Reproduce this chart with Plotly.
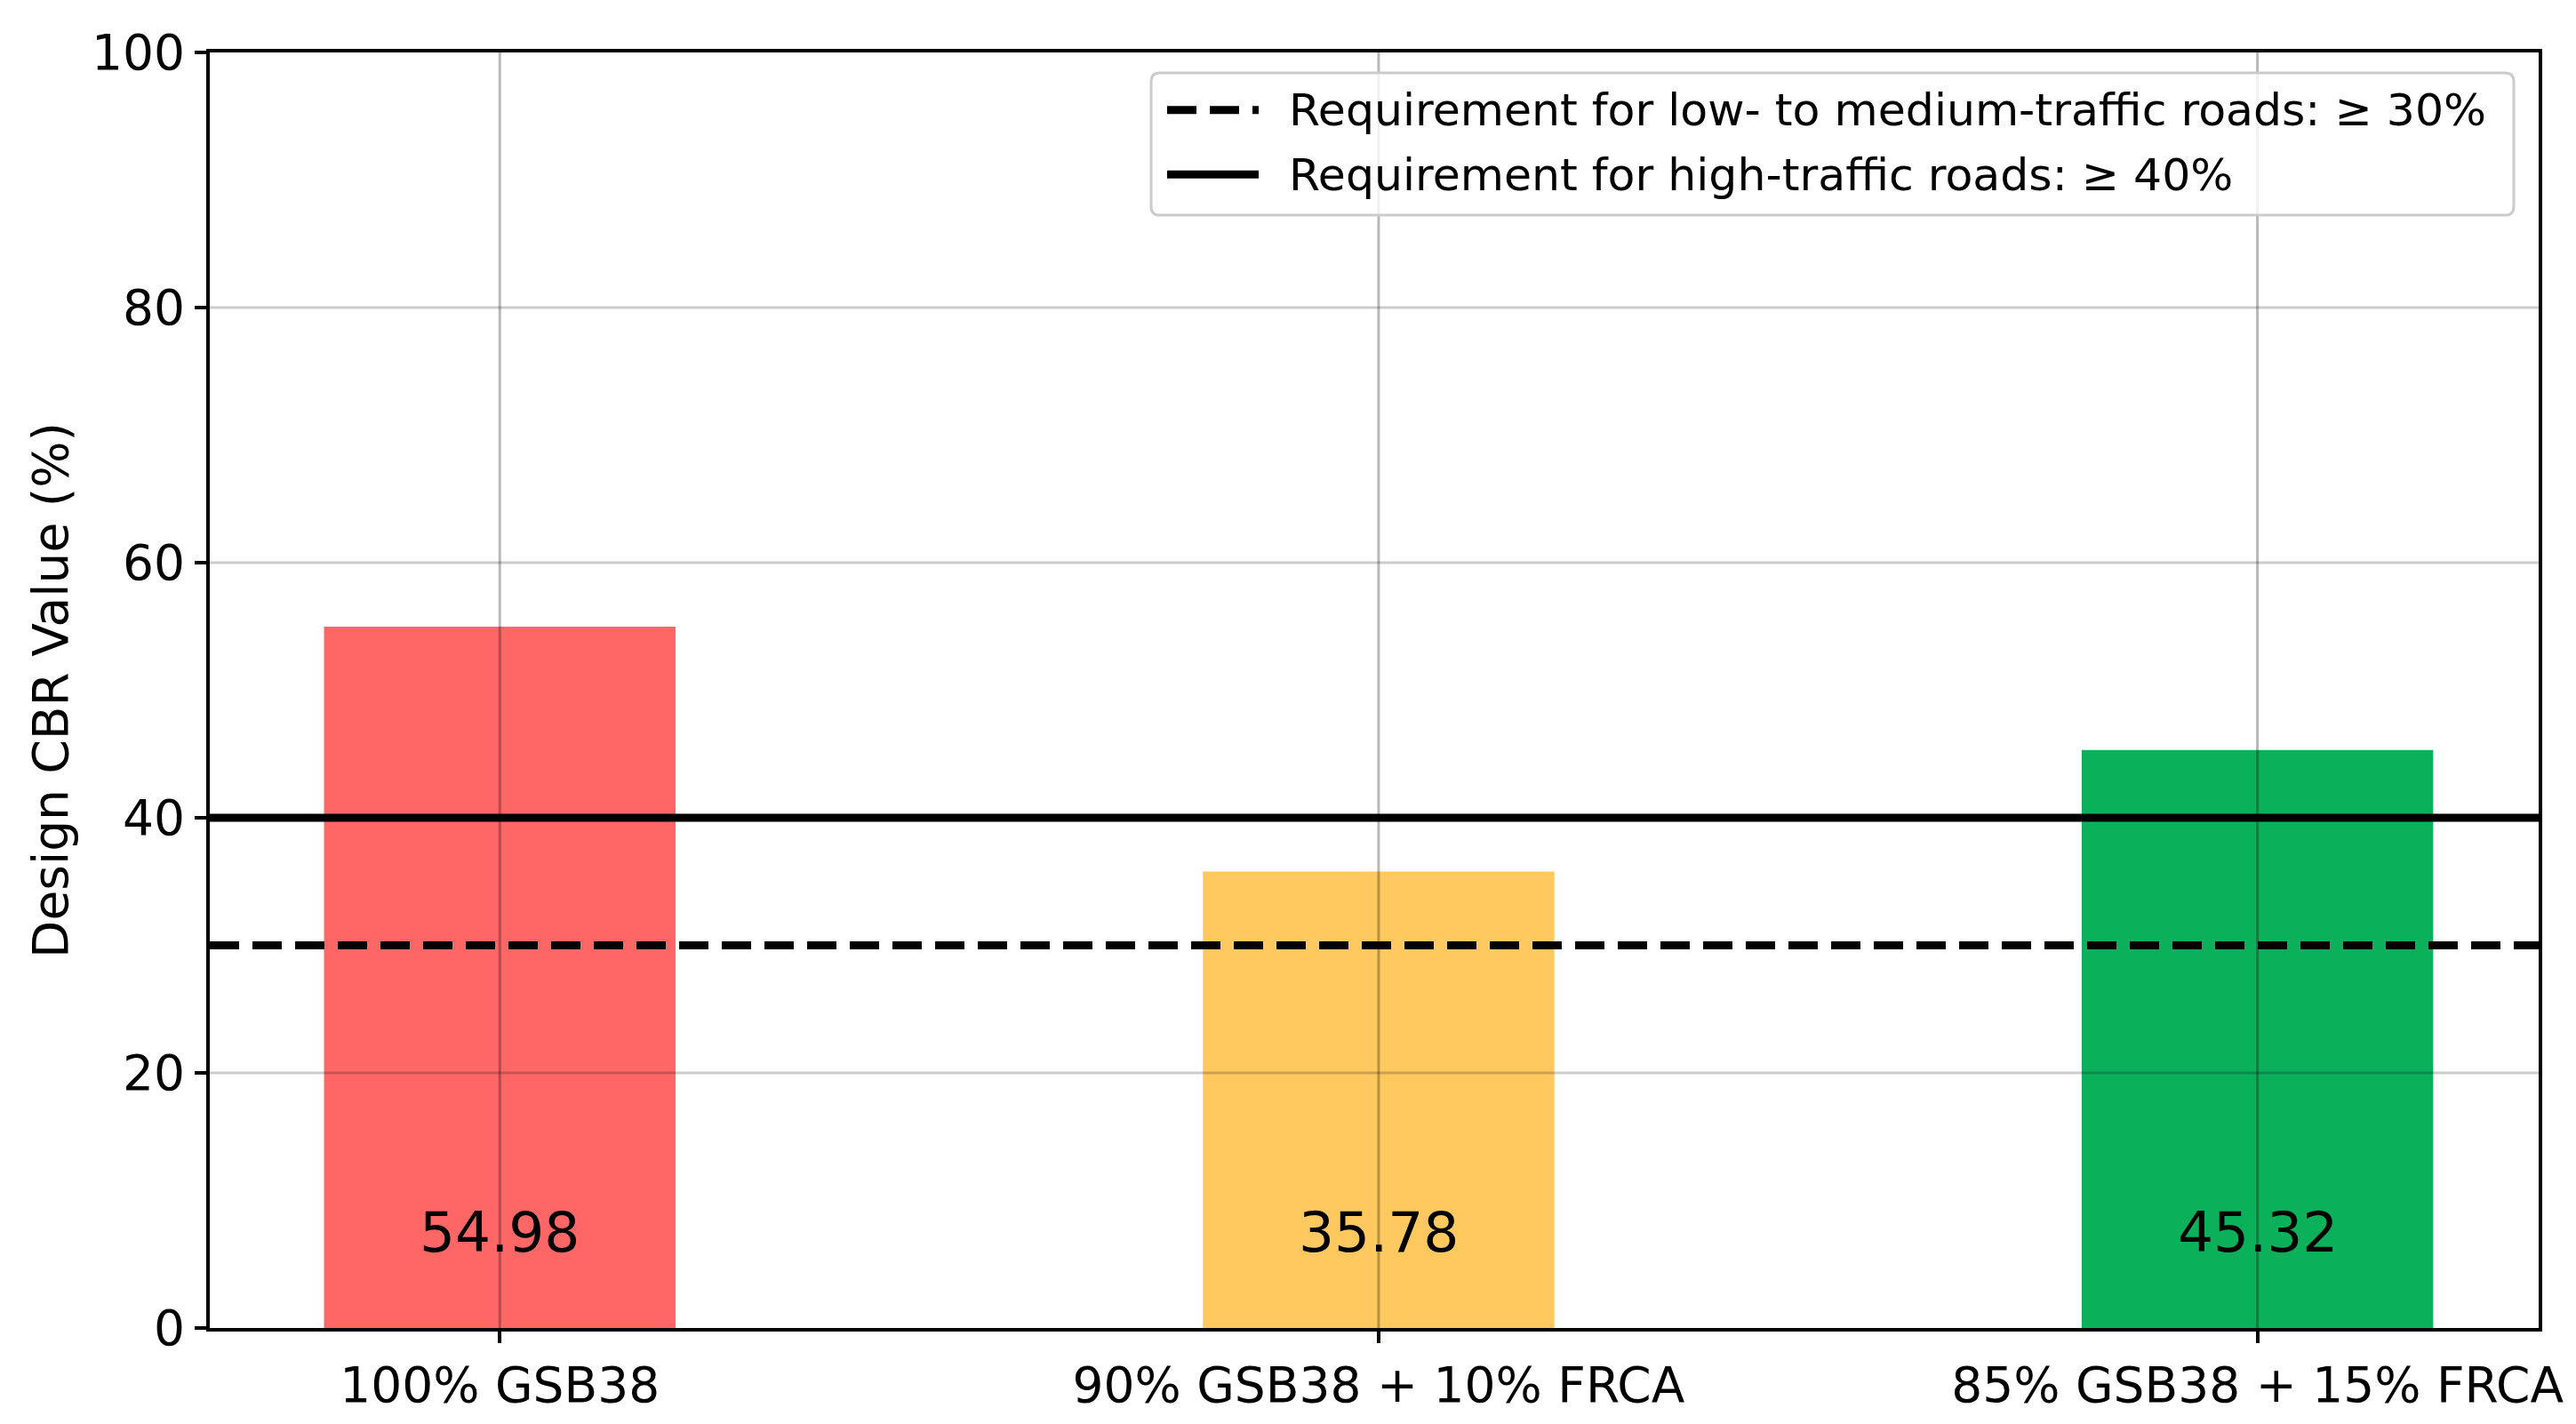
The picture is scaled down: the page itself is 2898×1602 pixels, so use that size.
import plotly.graph_objects as go

# ---- data ----
categories = ["100% GSB38", "90% GSB38 + 10% FRCA", "85% GSB38 + 15% FRCA"]
cbr_values = [54.98, 35.78, 45.32]
bar_colors = ["#FF6666", "#FFC95F", "#0BB05A"]
threshold_values = [30, 40]
threshold_labels = [
    "Requirement for low- to medium-traffic roads: \u2265 30%",
    "Requirement for high-traffic roads: \u2265 40%",
]
threshold_dashes = ["33px,15px", "solid"]
y_ticks = [0, 20, 40, 60, 80, 100]

FONT = "DejaVu Sans"
W, H = 2898, 1602
ML, MR, MT, MB = 236, 42, 59, 101
PW, PH = W - ML - MR, H - MT - MB

fig = go.Figure()
fig.add_trace(go.Bar(
    x=categories, y=cbr_values, width=0.4,
    marker=dict(color=bar_colors, line=dict(width=0)),
    showlegend=False, hoverinfo="skip",
))

shapes = []
# grid lines drawn above the bars (as in the reference)
for i, _ in enumerate(categories):
    shapes.append(dict(type="line", xref="x", yref="y domain", x0=i, x1=i, y0=0, y1=1,
                       line=dict(color="rgba(0,0,0,0.28)", width=3), layer="above"))
for v in y_ticks[1:-1]:
    shapes.append(dict(type="line", xref="x domain", yref="y", x0=0, x1=1, y0=v, y1=v,
                       line=dict(color="rgba(0,0,0,0.2)", width=3), layer="above"))
# requirement lines
for v, d in zip(threshold_values, threshold_dashes):
    shapes.append(dict(type="line", xref="x domain", yref="y", x0=0, x1=1, y0=v, y1=v,
                       line=dict(color="black", width=9, dash=d), layer="above"))

# manual legend (paper coordinates)
def px_x(X):
    return (X - ML) / PW

def px_y(Y):
    return (H - MB - Y) / PH

bx0, bx1, by0, by1 = px_x(1295), px_x(2828), px_y(243), px_y(82)
rx, ry = 10 / PW, 10 / PH
path = (f"M{bx0+rx},{by0} L{bx1-rx},{by0} Q{bx1},{by0} {bx1},{by0+ry} "
        f"L{bx1},{by1-ry} Q{bx1},{by1} {bx1-rx},{by1} L{bx0+rx},{by1} "
        f"Q{bx0},{by1} {bx0},{by1-ry} L{bx0},{by0+ry} Q{bx0},{by0} {bx0+rx},{by0} Z")
shapes.append(dict(type="path", xref="paper", yref="paper", path=path,
                   fillcolor="rgba(255,255,255,0.8)", line=dict(color="#cccccc", width=3),
                   layer="above"))

annotations = []
row_y = [124, 197]
for lab, d, ry_px in zip(threshold_labels, threshold_dashes, row_y):
    yy = px_y(ry_px)
    shapes.append(dict(type="line", xref="paper", yref="paper", x0=px_x(1313), x1=px_x(1416),
                       y0=yy, y1=yy, line=dict(color="black", width=9, dash=d), layer="above"))
    annotations.append(dict(xref="paper", yref="paper", x=px_x(1448), y=yy, text=lab,
                            showarrow=False, xanchor="left", yanchor="middle",
                            font=dict(family=FONT, size=50.5, color="black")))

# value labels
for c, v in zip(categories, cbr_values):
    annotations.append(dict(xref="x", yref="y", x=c, y=7.5, text=f"{v:.2f}", showarrow=False,
                            xanchor="center", yanchor="middle",
                            font=dict(family=FONT, size=63, color="black")))

fig.update_layout(
    width=W, height=H,
    margin=dict(l=ML, r=MR, t=MT, b=MB, pad=0),
    paper_bgcolor="white", plot_bgcolor="white",
    font=dict(family=FONT, size=55, color="black"),
    shapes=shapes, annotations=annotations,
    bargap=0.6,
)
fig.update_xaxes(
    type="category", range=[-0.33, 2.32],
    showgrid=False, showline=True, mirror=True, linecolor="black", linewidth=4,
    ticks="outside", ticklen=13, tickwidth=4, tickcolor="black",
    tickfont=dict(family=FONT, size=55, color="black"),
)
fig.update_yaxes(
    range=[0, 100], tickvals=y_ticks, showgrid=False, zeroline=False,
    showline=True, mirror=True, linecolor="black", linewidth=4,
    ticks="outside", ticklen=13, tickwidth=4, tickcolor="black",
    tickfont=dict(family=FONT, size=55, color="black"),
    title=dict(text="Design CBR Value (%)", font=dict(family=FONT, size=55, color="black"), standoff=10),
)

fig.write_html("out.html", config={"displayModeBar": False},
               post_script="document.body.style.margin='0';")
